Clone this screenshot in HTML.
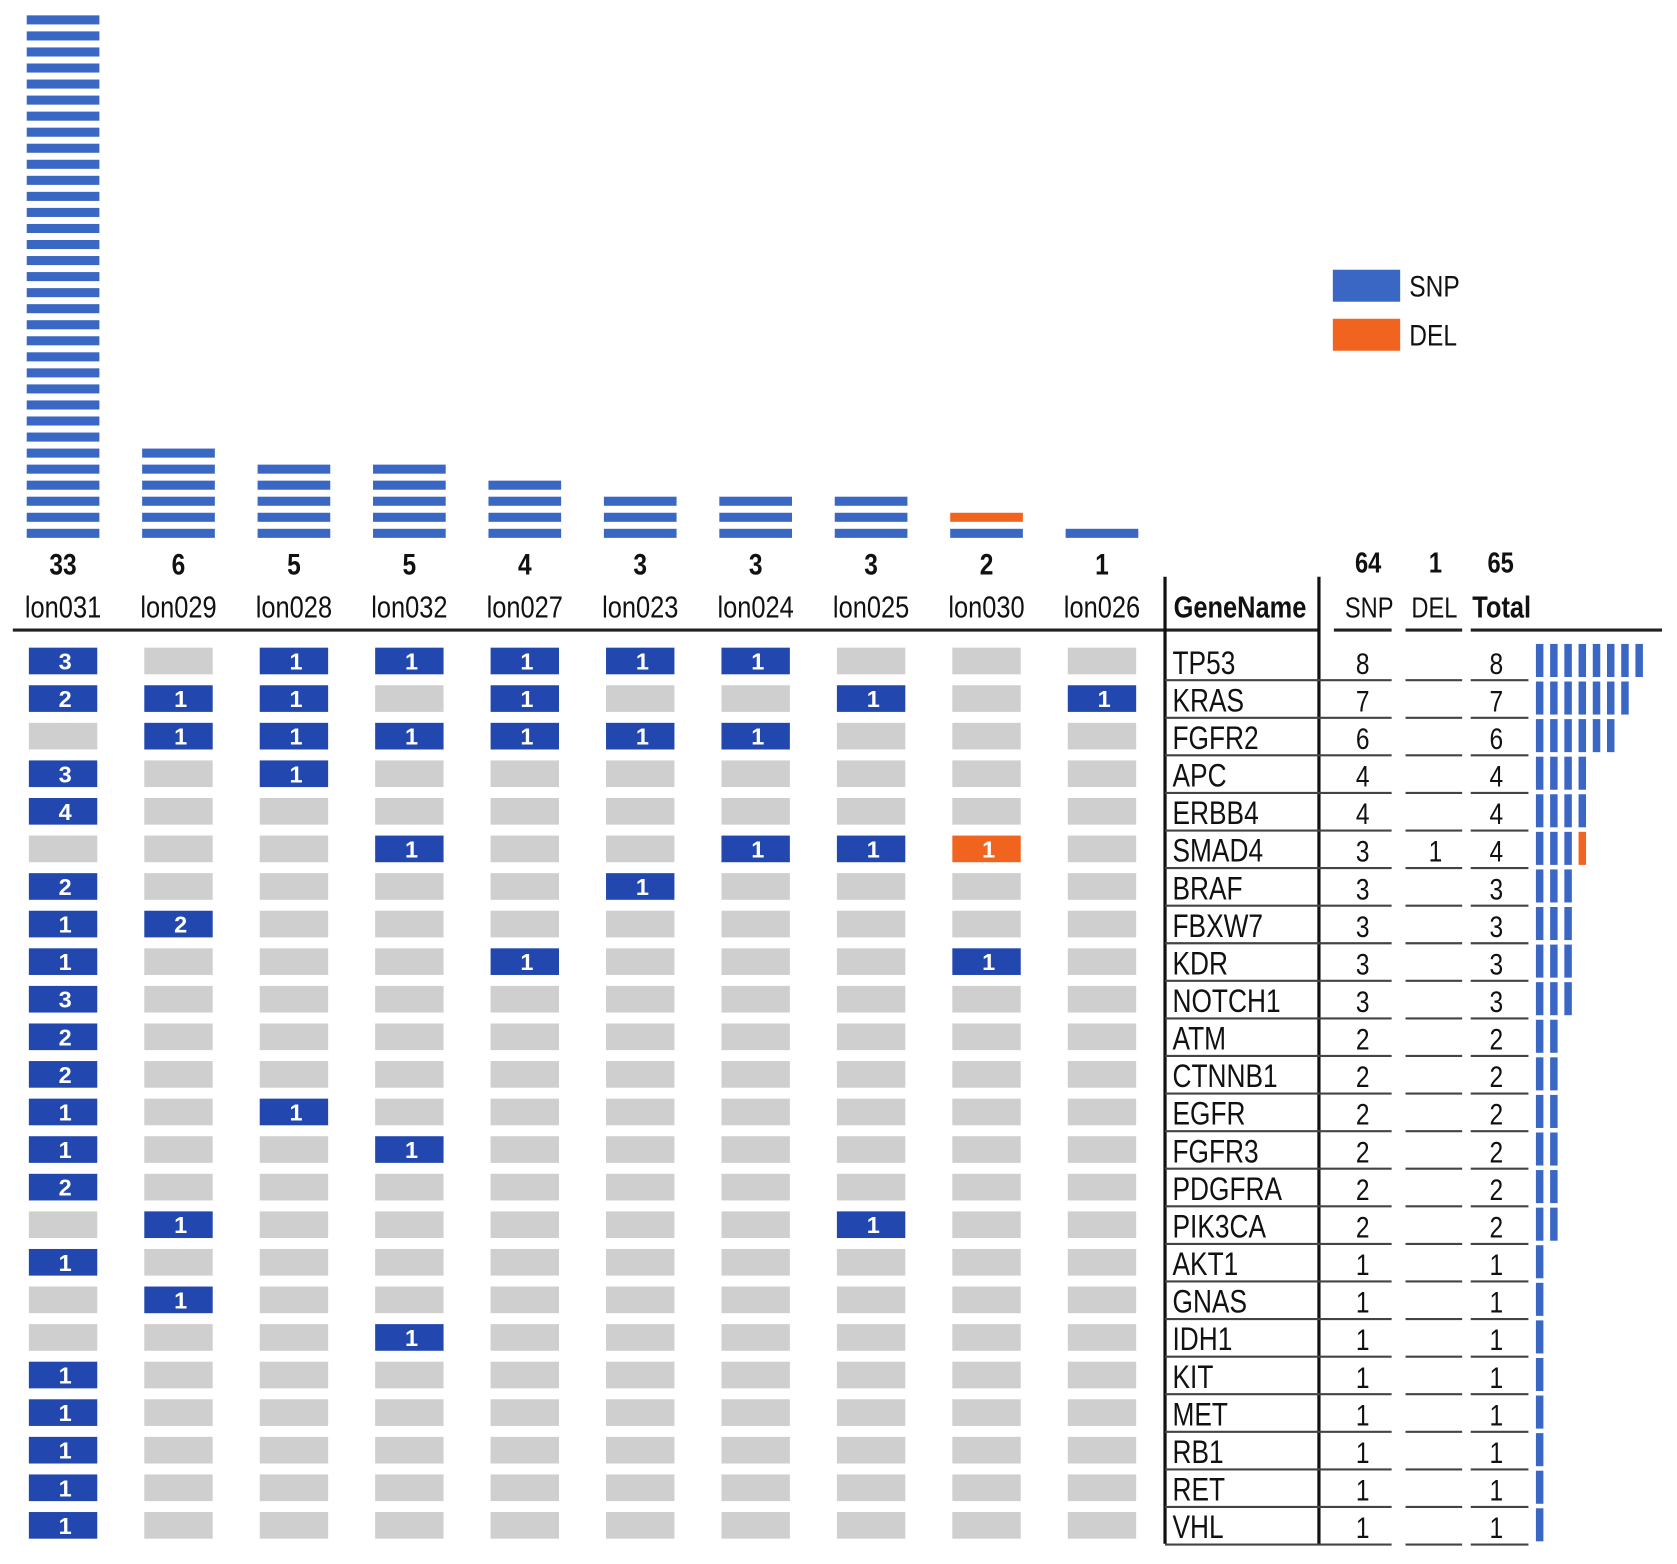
<!DOCTYPE html>
<html><head><meta charset="utf-8">
<style>
html,body{margin:0;padding:0;background:#fff;}
svg{display:block;}
text{font-family:"Liberation Sans Narrow","Liberation Sans",sans-serif;}
</style></head>
<body>
<svg id="chart" width="1677" height="1564" viewBox="0 0 1569 1467" preserveAspectRatio="none" xmlns="http://www.w3.org/2000/svg">
  <g id="legend">
    <rect x="1247" y="253" width="63" height="30" fill="#3a66c4"/>
    <text x="1608" y="278" font-size="28" fill="#111" transform="scale(0.82,1)">SNP</text>
    <rect x="1247" y="299" width="63" height="30" fill="#f0641f"/>
    <text x="1608" y="324" font-size="28" fill="#111" transform="scale(0.82,1)">DEL</text>
  </g>
  <g id="g"></g>
</svg>
<script>
const samples = ["lon031","lon029","lon028","lon032","lon027","lon023","lon024","lon025","lon030","lon026"];
const sampleSnp = [33,6,5,5,4,3,3,3,1,1];
const sampleDel = [0,0,0,0,0,0,0,0,1,0];
const genes = ["TP53","KRAS","FGFR2","APC","ERBB4","SMAD4","BRAF","FBXW7","KDR","NOTCH1","ATM","CTNNB1","EGFR","FGFR3","PDGFRA","PIK3CA","AKT1","GNAS","IDH1","KIT","MET","RB1","RET","VHL"];
const geneSnp = [8,7,6,4,4,3,3,3,3,3,2,2,2,2,2,2,1,1,1,1,1,1,1,1];
const geneDel = [0,0,0,0,0,1,0,0,0,0,0,0,0,0,0,0,0,0,0,0,0,0,0,0];
// matrix values: positive = SNP count, negative = DEL count, 0 = none
const matrix = [
 [3,0,1,1,1,1,1,0,0,0],
 [2,1,1,0,1,0,0,1,0,1],
 [0,1,1,1,1,1,1,0,0,0],
 [3,0,1,0,0,0,0,0,0,0],
 [4,0,0,0,0,0,0,0,0,0],
 [0,0,0,1,0,0,1,1,-1,0],
 [2,0,0,0,0,1,0,0,0,0],
 [1,2,0,0,0,0,0,0,0,0],
 [1,0,0,0,1,0,0,0,1,0],
 [3,0,0,0,0,0,0,0,0,0],
 [2,0,0,0,0,0,0,0,0,0],
 [2,0,0,0,0,0,0,0,0,0],
 [1,0,1,0,0,0,0,0,0,0],
 [1,0,0,1,0,0,0,0,0,0],
 [2,0,0,0,0,0,0,0,0,0],
 [0,1,0,0,0,0,0,1,0,0],
 [1,0,0,0,0,0,0,0,0,0],
 [0,1,0,0,0,0,0,0,0,0],
 [0,0,0,1,0,0,0,0,0,0],
 [1,0,0,0,0,0,0,0,0,0],
 [1,0,0,0,0,0,0,0,0,0],
 [1,0,0,0,0,0,0,0,0,0],
 [1,0,0,0,0,0,0,0,0,0],
 [1,0,0,0,0,0,0,0,0,0]
];

const NS="http://www.w3.org/2000/svg";
const G=document.getElementById('g');
const SX=0.82;
function mk(tag,attrs,parent){const e=document.createElementNS(NS,tag);for(const k in attrs)e.setAttribute(k,attrs[k]);(parent||G).appendChild(e);return e;}
const colX = i => 59 + i*108;
const rowY = r => 620 + r*35.25;
const stripeY = k => 500 - k*15.05;
const BLUE="#3a66c4", DARK="#2248b0", ORANGE="#f0641f", GRAY="#cfcfcf";
function txt(x,y,s,size,name,opts){
  const t=mk('text',Object.assign({x:x/SX,y:y,'font-size':size,fill:'#111',transform:'scale('+SX+',1)'},opts||{}));
  t.textContent=s;
  
  
  return t;
}

samples.forEach((s,i)=>{
  const total = sampleSnp[i]+sampleDel[i];
  for(let k=0;k<total;k++){
    const isDel = k>=sampleSnp[i];
    const r=mk('rect',{x:colX(i)-34,y:stripeY(k)-4,width:68,height:8.5,fill:isDel?ORANGE:BLUE});
    
    
  }
  txt(colX(i),539,String(total),28,'sample-count-'+s,{'font-weight':'bold','text-anchor':'middle'});
  txt(colX(i),579,s,29,'sample-label-'+s,{'text-anchor':'middle'});
});

const hl=mk('line',{x1:12,y1:591,x2:1090,y2:591,stroke:'#222','stroke-width':3});


[[1090,1234],[1248,1302],[1315,1368],[1376,1555]].forEach(([a,b])=>{
  const e=mk('line',{x1:a,y1:591,x2:b,y2:591,stroke:'#222','stroke-width':3});
  
  
});
[[1090,541],[1234,541]].forEach(([x,y])=>{
  const e=mk('line',{x1:x,y1:y,x2:x,y2:1448,stroke:'#111','stroke-width':3});
  
  
});
txt(1098,579,'GeneName',29,'gene-name-header',{'font-weight':'bold'});
txt(1281,579,'SNP',27,'snp-header',{'text-anchor':'middle'});
txt(1342,579,'DEL',27,'del-header',{'text-anchor':'middle'});
txt(1405,579,'Total',29,'total-header',{'text-anchor':'middle','font-weight':'bold'});
const sumSnp=geneSnp.reduce((a,b)=>a+b,0), sumDel=geneDel.reduce((a,b)=>a+b,0);
txt(1280,537,String(sumSnp),27,'snp-sum',{'text-anchor':'middle','font-weight':'bold'});
txt(1343,537,String(sumDel),27,'del-sum',{'text-anchor':'middle','font-weight':'bold'});
txt(1404,537,String(sumSnp+sumDel),27,'total-sum',{'text-anchor':'middle','font-weight':'bold'});

genes.forEach((gname,r)=>{
  const y=rowY(r);
  matrix[r].forEach((v,i)=>{
    const fill = v>0?DARK:(v<0?ORANGE:GRAY);
    const c=mk('rect',{x:colX(i)-32,y:y-12.5,width:64,height:25,fill:fill});
    
    
    if(v!==0){
      const t=mk('text',{x:colX(i)+2,y:y+8,'font-size':22,'font-weight':'bold','text-anchor':'middle',fill:'#fff'});
      t.textContent=Math.abs(v);
      
      
    }
  });
  txt(1097,y+12,gname,30,'gene-name-'+gname);
  txt(1275,y+12,String(geneSnp[r]),28,'snp-count-'+gname,{'text-anchor':'middle'});
  if(geneDel[r]) txt(1343,y+12,String(geneDel[r]),28,'del-count-'+gname,{'text-anchor':'middle'});
  txt(1400,y+12,String(geneSnp[r]+geneDel[r]),28,'total-count-'+gname,{'text-anchor':'middle'});
  [[1090,1302],[1315,1368],[1376,1430]].forEach(([a,b])=>{
    const e=mk('line',{x1:a,y1:y+18,x2:b,y2:y+18,stroke:'#444','stroke-width':2});
    
    
  });
  const tot=geneSnp[r]+geneDel[r];
  for(let k=0;k<tot;k++){
    const b=mk('rect',{x:1437+k*13.3,y:y-16,width:7,height:31,fill:k<geneSnp[r]?BLUE:ORANGE});
    
    
  }
});
</script>
</body></html>
